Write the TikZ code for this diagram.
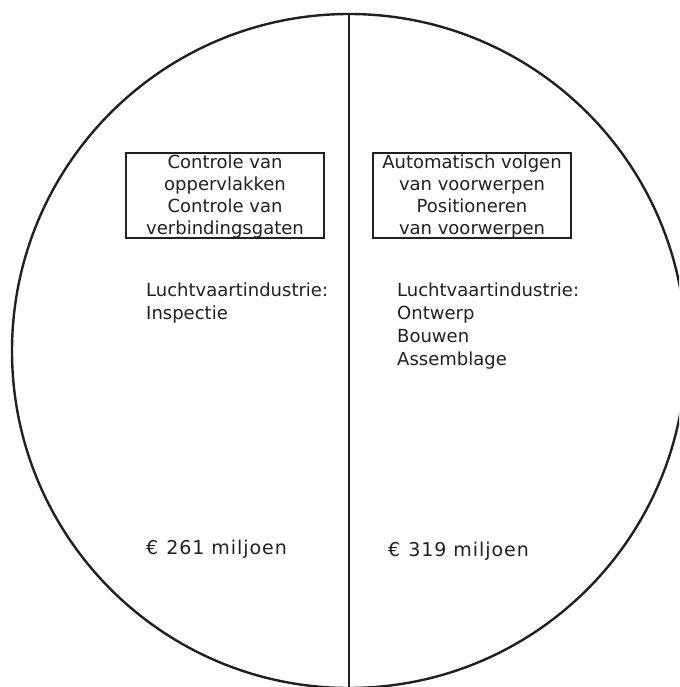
\documentclass[tikz,border=0pt]{standalone}
\usepackage{fontspec}
\setmainfont{DejaVu Sans}
\newfontfamily\valuefont{DejaVu Sans}[LetterSpace=5]
\definecolor{ink}{RGB}{35,31,32}
\begin{document}
\begin{tikzpicture}[x=1pt,y=-1pt,
  outline/.style={draw=ink, line width=2.4pt},
  boxframe/.style={draw=ink, line width=2pt, inner sep=0pt,
    minimum width=198pt, minimum height=85pt},
  boxtext/.style={text=ink, inner sep=0pt, align=center,
    font=\fontsize{18}{22}\selectfont},
  sidetext/.style={text=ink, inner sep=0pt, align=left,
    font=\fontsize{18}{23}\selectfont},
  valuetext/.style={text=ink, inner sep=0pt,
    font=\valuefont\fontsize{19}{23}\selectfont}
]
\useasboundingbox (0,0) rectangle (679,687);
\clip (0,0) rectangle (679,687);

% outer circle split by a vertical line
\coordinate (c) at (349,351);
\draw[outline] (c) circle[radius=337];
\coordinate (top) at (349,14);
\coordinate (bot) at (349,695);
\draw[outline] (top) -- (bot);

% left half
\node[boxframe] (lbox) at (225,195.5) {};
\node[boxtext] (lboxtext) at (225,197)
  {Controle van\\oppervlakken\\Controle van\\verbindingsgaten};
\node[sidetext, anchor=north west] (ltext) at (146,283)
  {Luchtvaartindustrie:\\Inspectie};
\node[valuetext, anchor=base west] (lval) at (146,554) {€\hspace{8pt}261 miljoen};

% right half
\node[boxframe] (rbox) at (472,195.5) {};
\node[boxtext] (rboxtext) at (472,197)
  {Automatisch volgen\\van voorwerpen\\Positioneren\\van voorwerpen};
\node[sidetext, anchor=north west] (rtext) at (397,283)
  {Luchtvaartindustrie:\\Ontwerp\\Bouwen\\Assemblage};
\node[valuetext, anchor=base west] (rval) at (388,556) {€\hspace{8pt}319 miljoen};
\end{tikzpicture}
\end{document}
